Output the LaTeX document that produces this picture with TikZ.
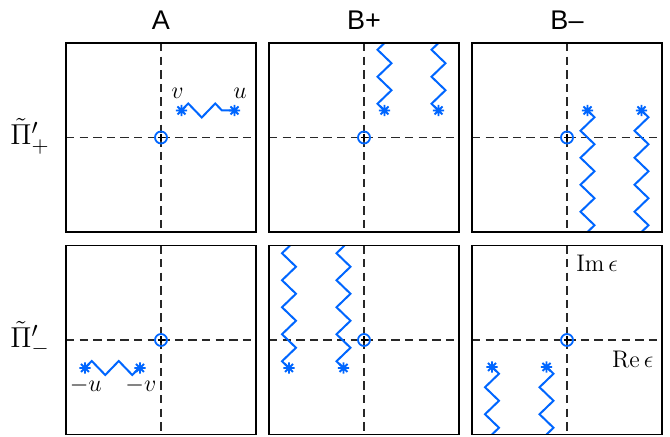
\documentclass[tikz,border=0pt]{standalone}
\usepackage{fontspec}
\newfontfamily\titlefont{Liberation Sans}
\usetikzlibrary{calc,decorations.pathmorphing}
\definecolor{cutblue}{RGB}{0,102,255}
\definecolor{axisgray}{RGB}{40,40,40}
\tikzset{
  panelbox/.style={minimum width=95pt, minimum height=94.5pt, inner sep=0pt, outer sep=0pt},
  frameline/.style={draw=black, line width=0.8pt},
  axisline/.style={axisgray, line width=0.7pt, dash pattern=on 4.2pt off 2.6pt},
  cut/.style={cutblue, line width=1pt, line join=miter, decorate,
    decoration={zigzag, segment length=13.5pt, amplitude=3.5pt}},
  starline/.style={cutblue, line width=0.9pt},
  origmark/.style={circle, draw=cutblue, line width=0.9pt, minimum size=6pt, inner sep=0pt},
  plusline/.style={black, line width=0.55pt},
  title/.style={font=\titlefont\fontsize{13.5}{16}\selectfont, anchor=base, inner sep=0pt},
  lbl/.style={font=\fontsize{12}{14}\selectfont, anchor=base, inner sep=0pt},
  rowlbl/.style={font=\fontsize{15}{17}\selectfont, anchor=base west, inner sep=0pt},
}
\newcommand\drawstar[1]{\draw[starline] (#1) +(-5.6,0) -- +(5.6,0) +(0,-5.6) -- +(0,5.6)
  +(-4,-4) -- +(4,4) +(-4,4) -- +(4,-4);}
\begin{document}
\begin{tikzpicture}[x=0.5pt,y=-0.5pt]
\useasboundingbox (0,0) rectangle (670,437);
% panels
\path node[panelbox] (A1) at (161,137.5) {}
      node[panelbox] (B1) at (364,137.5) {}
      node[panelbox] (C1) at (567,137.5) {}
      node[panelbox] (A2) at (161,340) {}
      node[panelbox] (B2) at (364,340) {}
      node[panelbox] (C2) at (567,340) {};
% axes
\foreach \p in {A1,B1,C1,A2,B2,C2}{
  \draw[axisline] (\p.north) -- (\p.south);
  \draw[axisline] (\p.west) -- (\p.east);
}
% branch points
\coordinate (A1v) at ($(A1.center)+(20.5,-27)$);
\coordinate (A1u) at ($(A1.center)+(73.5,-27)$);
\coordinate (B1v) at ($(B1.center)+(20.5,-27)$);
\coordinate (B1u) at ($(B1.center)+(74.5,-27)$);
\coordinate (C1v) at ($(C1.center)+(20.5,-27)$);
\coordinate (C1u) at ($(C1.center)+(74.5,-27)$);
\coordinate (A2u) at ($(A2.center)+(-76,28)$);
\coordinate (A2v) at ($(A2.center)+(-21,28)$);
\coordinate (B2u) at ($(B2.center)+(-75,28)$);
\coordinate (B2v) at ($(B2.center)+(-20.5,28)$);
\coordinate (C2u) at ($(C2.center)+(-75,27)$);
\coordinate (C2v) at ($(C2.center)+(-20.5,27)$);
% far ends of cuts
\coordinate (B1vi) at ($(B1v)+(0,-120)$);
\coordinate (B1ui) at ($(B1u)+(0,-120)$);
\coordinate (C1vi) at ($(C1v)+(0,180)$);
\coordinate (C1ui) at ($(C1u)+(0,180)$);
\coordinate (B2ui) at ($(B2u)+(0,-180)$);
\coordinate (B2vi) at ($(B2v)+(0,-180)$);
\coordinate (C2ui) at ($(C2u)+(0,120)$);
\coordinate (C2vi) at ($(C2v)+(0,120)$);
% cuts
\draw[cut] (A1v) -- (A1u);
\draw[cut] (A2u) -- (A2v);
\begin{scope}
  \clip (B1.south west) rectangle (B1.north east);
  \draw[cut] (B1v) -- (B1vi);
  \draw[cut] (B1u) -- (B1ui);
\end{scope}
\begin{scope}
  \clip (C1.south west) rectangle (C1.north east);
  \draw[cut] (C1v) -- (C1vi);
  \draw[cut] (C1u) -- (C1ui);
\end{scope}
\begin{scope}
  \clip (B2.south west) rectangle (B2.north east);
  \draw[cut] (B2u) -- (B2ui);
  \draw[cut] (B2v) -- (B2vi);
\end{scope}
\begin{scope}
  \clip (C2.south west) rectangle (C2.north east);
  \draw[cut] (C2u) -- (C2ui);
  \draw[cut] (C2v) -- (C2vi);
\end{scope}
% stars
\foreach \s in {A1v,A1u,B1v,B1u,C1v,C1u,A2u,A2v,B2u,B2v,C2u,C2v}{\drawstar{\s}}
% origins
\foreach \p in {A1,B1,C1,A2,B2,C2}{
  \node[origmark] (\p o) at (\p.center) {};
  \draw[plusline] (\p.center) +(-3.5,0) -- +(3.5,0) +(0,-3.5) -- +(0,3.5);
}
% frames
\foreach \p in {A1,B1,C1,A2,B2,C2}{
  \draw[frameline] (\p.south west) rectangle (\p.north east);
}
% labels
\node[lbl] (lv) at ($(A1.center)+(16.5,-39.2)$) {$v$};
\node[lbl] (lu) at ($(A1.center)+(79,-39.2)$) {$u$};
\node[lbl] (lmu) at (85.8,391.7) {$-u$};
\node[lbl] (lmv) at (140.8,391.7) {$-v$};
\node[lbl, anchor=base west] (lim) at (576,271.7) {$\mathrm{Im}\,\epsilon$};
\node[lbl, anchor=base west] (lre) at (611.7,368) {$\mathrm{Re}\,\epsilon$};
% row labels
\node[rowlbl] (r1) at (10,145) {$\tilde{\Pi}'_+$};
\node[rowlbl] (r2) at (10,347.5) {$\tilde{\Pi}'_-$};
% titles
\node[title] (tA) at (161,30) {A};
\node[title] (tB) at (364,30) {B+};
\node[title] (tC) at (567,30) {B–};
\end{tikzpicture}
\end{document}
